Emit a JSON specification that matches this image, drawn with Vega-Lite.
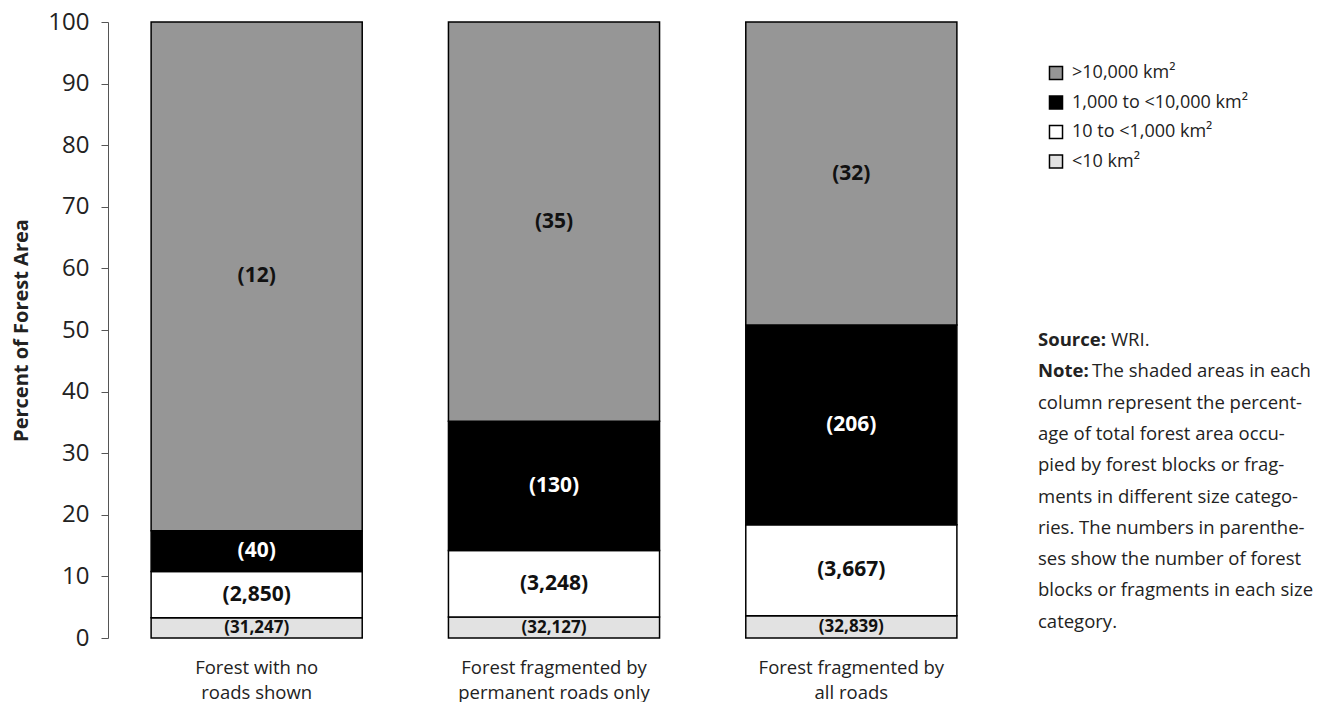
{
  "$schema": "https://vega.github.io/schema/vega-lite/v6.json",
  "padding": {"left": 11, "top": 10, "right": 0, "bottom": 0},
  "background": "white",
  "config": {"view": {"stroke": null}, "font": "Open Sans"},
  "datasets": {
    "seg": [
      {"cat": "Forest with no roads shown", "size": "<10 km²", "ord": 1, "pct": 3.3, "count": "(31,247)"},
      {"cat": "Forest with no roads shown", "size": "10 to <1,000 km²", "ord": 2, "pct": 7.5, "count": "(2,850)"},
      {"cat": "Forest with no roads shown", "size": "1,000 to <10,000 km²", "ord": 3, "pct": 6.6, "count": "(40)"},
      {"cat": "Forest with no roads shown", "size": ">10,000  km²", "ord": 4, "pct": 82.6, "count": "(12)"},
      {"cat": "Forest fragmented by permanent roads only", "size": "<10 km²", "ord": 1, "pct": 3.4, "count": "(32,127)"},
      {"cat": "Forest fragmented by permanent roads only", "size": "10 to <1,000 km²", "ord": 2, "pct": 10.8, "count": "(3,248)"},
      {"cat": "Forest fragmented by permanent roads only", "size": "1,000 to <10,000 km²", "ord": 3, "pct": 21.0, "count": "(130)"},
      {"cat": "Forest fragmented by permanent roads only", "size": ">10,000  km²", "ord": 4, "pct": 64.8, "count": "(35)"},
      {"cat": "Forest fragmented by all roads", "size": "<10 km²", "ord": 1, "pct": 3.6, "count": "(32,839)"},
      {"cat": "Forest fragmented by all roads", "size": "10 to <1,000 km²", "ord": 2, "pct": 14.8, "count": "(3,667)"},
      {"cat": "Forest fragmented by all roads", "size": "1,000 to <10,000 km²", "ord": 3, "pct": 32.4, "count": "(206)"},
      {"cat": "Forest fragmented by all roads", "size": ">10,000  km²", "ord": 4, "pct": 49.2, "count": "(32)"}
    ],
    "notes": [
      {"line": 0, "b": "Source:", "t": "WRI."},
      {"line": 1, "b": "Note:", "t": "The shaded areas in each"},
      {"line": 2, "b": "", "t": "column represent the percent-"},
      {"line": 3, "b": "", "t": "age of total forest area occu-"},
      {"line": 4, "b": "", "t": "pied by forest blocks or frag-"},
      {"line": 5, "b": "", "t": "ments in different size catego-"},
      {"line": 6, "b": "", "t": "ries. The numbers in parenthe-"},
      {"line": 7, "b": "", "t": "ses show the number of forest"},
      {"line": 8, "b": "", "t": "blocks or fragments in each size"},
      {"line": 9, "b": "", "t": "category."}
    ]
  },
  "spacing": 38,
  "hconcat": [
    {
      "width": 892,
      "height": 616,
      "data": {"name": "seg"},
      "transform": [
        {"stack": "pct", "groupby": ["cat"], "sort": [{"field": "ord", "order": "ascending"}], "as": ["y0", "y1"]},
        {"calculate": "(datum.y0 + datum.y1) / 2", "as": "mid"}
      ],
      "encoding": {
        "x": {
          "field": "cat",
          "type": "nominal",
          "sort": ["Forest with no roads shown", "Forest fragmented by permanent roads only", "Forest fragmented by all roads"],
          "scale": {"paddingInner": 0.29, "paddingOuter": 0.145},
          "axis": {
            "title": null,
            "domain": false,
            "ticks": false,
            "labelAngle": 0,
            "labelFontSize": 18.5,
            "labelColor": "#222",
            "labelPadding": 20,
            "labelLineHeight": 25,
            "labelLimit": 0,
            "labelExpr": "datum.label == 'Forest with no roads shown' ? ['Forest with no', 'roads shown'] : datum.label == 'Forest fragmented by permanent roads only' ? ['Forest fragmented by', 'permanent roads only'] : ['Forest fragmented by', 'all roads']"
          }
        }
      },
      "layer": [
        {
          "mark": {"type": "bar", "stroke": "black", "strokeWidth": 1.5},
          "encoding": {
            "y": {
              "field": "y0",
              "type": "quantitative",
              "scale": {"domain": [0, 100]},
              "axis": {
                "values": [0, 10, 20, 30, 40, 50, 60, 70, 80, 90, 100],
                "title": "Percent of Forest Area",
                "titleFontSize": 20,
                "titleFontWeight": "bold",
                "titleColor": "#222",
                "titlePadding": 16,
                "labelFontSize": 24,
                "labelColor": "#222",
                "labelPadding": 12,
                "tickSize": 7,
                "tickColor": "#555",
                "domainColor": "#555",
                "grid": false
              }
            },
            "y2": {"field": "y1"},
            "color": {
              "field": "size",
              "type": "nominal",
              "scale": {
                "domain": [">10,000  km²", "1,000 to <10,000 km²", "10 to <1,000 km²", "<10 km²"],
                "range": ["#969696", "#000000", "#ffffff", "#e2e2e2"]
              },
              "legend": {
                "orient": "none",
                "legendX": 939,
                "legendY": 42,
                "title": null,
                "symbolType": "square",
                "symbolSize": 170,
                "labelFontSize": 18,
                "labelColor": "#222",
                "labelOffset": 7,
                "labelLimit": 0,
                "rowPadding": 9.5,
                "encode": {
                  "symbols": {
                    "update": {
                      "fill": {"signal": "datum.value === '<10 km²' ? '#858585' : scale('color', datum.value)"},
                      "stroke": {"value": "black"},
                      "strokeWidth": {"value": 1.3},
                      "opacity": {"value": 1}
                    }
                  }
                }
              }
            }
          }
        },
        {
          "mark": {"type": "text", "fontWeight": "bold", "baseline": "middle"},
          "encoding": {
            "y": {"field": "mid", "type": "quantitative"},
            "text": {"field": "count"},
            "size": {"condition": {"test": "datum.ord == 1", "value": 17}, "value": 21},
            "color": {"condition": {"test": "datum.ord == 3", "value": "white"}, "value": "#111"}
          }
        }
      ]
    },
    {
      "width": 285,
      "height": 616,
      "data": {"name": "notes"},
      "encoding": {
        "x": {"datum": 0, "type": "quantitative", "scale": {"domain": [0, 1]}, "axis": null},
        "y": {"field": "line", "type": "quantitative", "scale": {"domain": [-10.16, 9.52], "reverse": true, "nice": false, "zero": false}, "axis": null}
      },
      "layer": [
        {
          "transform": [{"filter": "datum.b != ''"}],
          "mark": {"type": "text", "align": "left", "baseline": "middle", "fontWeight": "bold", "fontSize": 18.5, "color": "#222"},
          "encoding": {"text": {"field": "b"}}
        },
        {
          "transform": [{"filter": "datum.line == 0"}],
          "mark": {"type": "text", "align": "left", "baseline": "middle", "fontSize": 18.5, "color": "#222", "dx": 73},
          "encoding": {"text": {"field": "t"}}
        },
        {
          "transform": [{"filter": "datum.line == 1"}],
          "mark": {"type": "text", "align": "left", "baseline": "middle", "fontSize": 18.5, "color": "#222", "dx": 54},
          "encoding": {"text": {"field": "t"}}
        },
        {
          "transform": [{"filter": "datum.line > 1"}],
          "mark": {"type": "text", "align": "left", "baseline": "middle", "fontSize": 18.5, "color": "#222"},
          "encoding": {"text": {"field": "t"}}
        }
      ]
    }
  ]
}
